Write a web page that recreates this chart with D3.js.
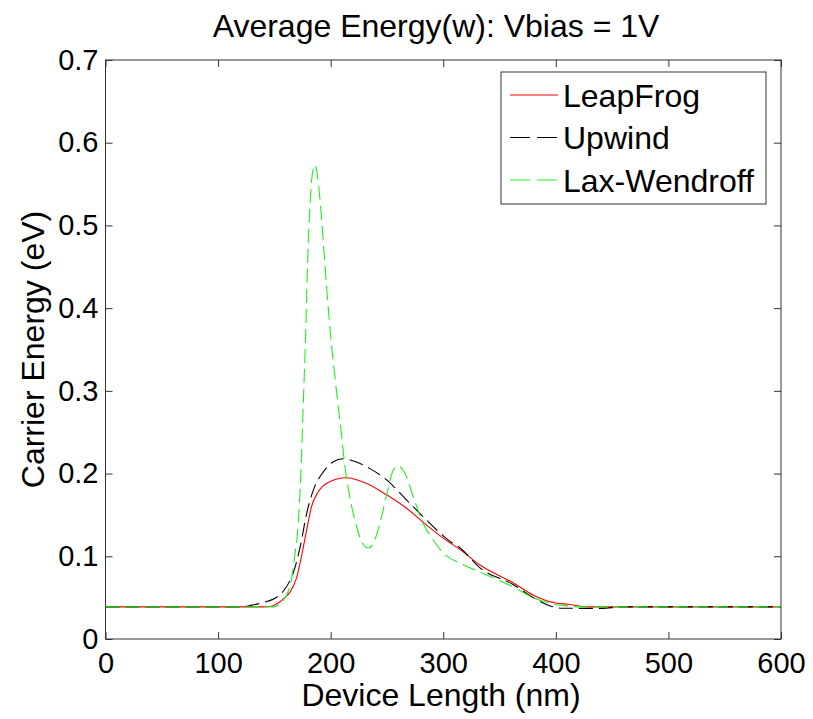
<!DOCTYPE html>
<html>
<head>
<meta charset="utf-8">
<script src="https://cdn.jsdelivr.net/npm/d3@7"></script>
<style>
  body { margin: 0; background: #fff; }
  text { font-family: "Liberation Sans", Arial, sans-serif; }
</style>
</head>
<body>
<div id="LINE_CHART"></div>
<script>
// values: [device length (nm), energy (eV)]
const leapFrog = [
  [0, 0.0388], [140, 0.0388], [148, 0.040], [155, 0.045], [160, 0.051], [164, 0.057],
  [170, 0.075], [174, 0.0995], [178.7, 0.132], [183, 0.160], [189, 0.178], [199, 0.190],
  [214, 0.195], [232, 0.188], [250, 0.174], [267.5, 0.158], [285, 0.138], [300, 0.122],
  [315, 0.108], [332.6, 0.0895], [362, 0.068], [380, 0.053], [400, 0.0435], [411, 0.042],
  [430, 0.0388], [600, 0.0388]
];
const upwind = [
  [0, 0.0388], [120, 0.0388], [130, 0.041], [140, 0.044], [153.5, 0.052], [158, 0.058],
  [164, 0.071], [167, 0.081], [173, 0.112], [178.7, 0.152], [184.6, 0.180], [193.5, 0.202],
  [202, 0.214], [211, 0.218], [223, 0.214], [235, 0.206], [250, 0.192], [267.5, 0.168],
  [285, 0.144], [306, 0.118], [315, 0.110], [332.6, 0.086], [362, 0.066], [380, 0.050],
  [395, 0.040], [405, 0.0372], [440, 0.0370], [460, 0.0388], [600, 0.0388]
];
const laxWendroff = [
  [0, 0.0388], [149, 0.0388], [158, 0.047], [165, 0.071], [168, 0.0995], [171, 0.136],
  [173.5, 0.20], [175.7, 0.285], [177.8, 0.37], [179.5, 0.455], [181.6, 0.523], [183.5, 0.56],
  [185.8, 0.573], [188.5, 0.558], [191.5, 0.515], [194.4, 0.462], [197, 0.415], [200, 0.366],
  [203.5, 0.32], [206.8, 0.28], [209.8, 0.245], [212.7, 0.208], [217, 0.172], [223, 0.136],
  [229, 0.114], [233.4, 0.110], [238, 0.116], [243.8, 0.140], [250, 0.176], [255.6, 0.204],
  [260, 0.209], [266, 0.200], [273.4, 0.172], [282, 0.140], [291, 0.120], [300, 0.104],
  [315, 0.0915], [332.6, 0.081], [362, 0.063], [380, 0.050], [395, 0.043], [410, 0.040],
  [420, 0.0388], [600, 0.0388]
];
const seriesNames = ['LeapFrog', 'Upwind', 'Lax-Wendroff'];
const xTicks = [0, 100, 200, 300, 400, 500, 600];
const yTicks = [0, 0.1, 0.2, 0.3, 0.4, 0.5, 0.6, 0.7];

const width = 813, height = 719;
const margin = {top: 60, right: 32, bottom: 80, left: 105.5};

const svg = d3.select('#LINE_CHART')
  .append('svg')
  .attr('width', width)
  .attr('height', height);

const x = d3.scaleLinear()
  .domain([0, 600])
  .range([margin.left, width - margin.right]);

const y = d3.scaleLinear()
  .domain([0, 0.7])
  .range([height - margin.bottom, margin.top]);

const tickFont = g => g
  .attr('font-size', 29)
  .attr('font-family', '"Liberation Sans", Arial, sans-serif')
  .call(h => h.select('.domain').remove())
  .call(h => h.selectAll('.tick line').attr('stroke', '#333'))
  .call(h => h.selectAll('.tick text').attr('fill', '#000'));

// bottom / left with labels, top / right just inner ticks
svg.append('g')
  .attr('transform', `translate(0,${y(0)})`)
  .call(d3.axisBottom(x).tickValues(xTicks).tickSize(-7).tickPadding(13).tickFormat(d3.format('d')))
  .call(tickFont);

svg.append('g')
  .attr('transform', `translate(${x(0)},0)`)
  .call(d3.axisLeft(y).tickValues(yTicks).tickSize(-7).tickPadding(7).tickFormat(d => d === 0 ? '0' : d3.format('.1f')(d)))
  .call(tickFont);

svg.append('g')
  .attr('transform', `translate(0,${y(0.7)})`)
  .call(d3.axisTop(x).tickValues(xTicks).tickSize(-7).tickFormat(''))
  .call(tickFont);

svg.append('g')
  .attr('transform', `translate(${x(600)},0)`)
  .call(d3.axisRight(y).tickValues(yTicks).tickSize(-7).tickFormat(''))
  .call(tickFont);

svg.append('rect')
  .attr('x', x(0))
  .attr('y', y(0.7))
  .attr('width', x(600) - x(0))
  .attr('height', y(0) - y(0.7))
  .attr('fill', 'none')
  .attr('stroke', '#333')
  .attr('stroke-width', 1);

const line = d3.line()
  .x(d => x(d[0]))
  .y(d => y(d[1]))
  .curve(d3.curveMonotoneX);

const styles = [
  {data: leapFrog, color: '#ff0000', dash: null},
  {data: upwind, color: '#000000', dash: '14,6'},
  {data: laxWendroff, color: '#22ee22', dash: '14,6'}
];

styles.forEach(s => {
  svg.append('path')
    .datum(s.data)
    .attr('fill', 'none')
    .attr('stroke', s.color)
    .attr('stroke-width', 1.1)
    .attr('stroke-dasharray', s.dash)
    .attr('d', line);
});

// legend
const legend = svg.append('g');
legend.append('rect')
  .attr('x', 501)
  .attr('y', 72)
  .attr('width', 265)
  .attr('height', 132)
  .attr('fill', '#fff')
  .attr('stroke', '#333');

seriesNames.forEach((name, i) => {
  const ly = 95 + i * 42.5;
  legend.append('line')
    .attr('x1', 510).attr('x2', 558)
    .attr('y1', ly).attr('y2', ly)
    .attr('stroke', styles[i].color)
    .attr('stroke-width', 1.1)
    .attr('stroke-dasharray', styles[i].dash ? '20,7' : null);
  legend.append('text')
    .attr('x', 563)
    .attr('y', ly)
    .attr('dy', '0.36em')
    .attr('font-size', 32)
    .text(name);
});

svg.append('text')
  .attr('x', 436)
  .attr('y', 37)
  .attr('text-anchor', 'middle')
  .attr('font-size', 32)
  .text('Average Energy(w): Vbias = 1V');

svg.append('text')
  .attr('x', 441)
  .attr('y', 706)
  .attr('text-anchor', 'middle')
  .attr('font-size', 32)
  .text('Device Length (nm)');

svg.append('text')
  .attr('transform', `translate(44,${(y(0) + y(0.7)) / 2}) rotate(-90)`)
  .attr('text-anchor', 'middle')
  .attr('font-size', 32)
  .text('Carrier Energy (eV)');
</script>
</body>
</html>
